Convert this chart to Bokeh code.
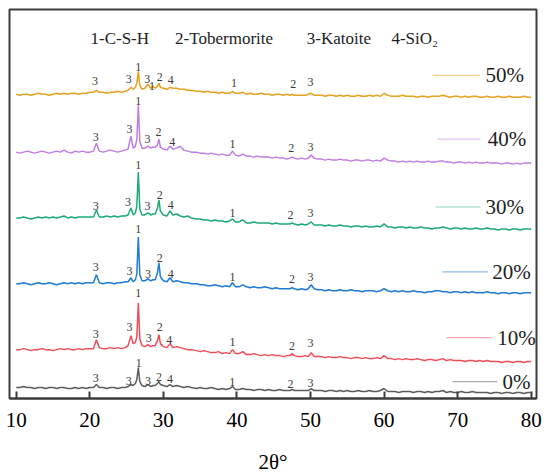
from bokeh.plotting import figure
from bokeh.models import Range1d, FixedTicker
from bokeh.core.properties import value
from bokeh.embed import file_html
from bokeh.resources import INLINE

# 2-theta grid (degrees)
two_theta = [10.0, 10.5, 11.0, 11.5, 12.0, 12.5, 13.0, 13.5, 14.0, 14.5, 15.0, 15.5, 16.0, 16.5, 17.0, 17.5, 18.0, 18.5, 19.0, 19.5, 20.0,
             20.5, 20.9, 21.3, 21.8, 22.3, 22.8, 23.3, 23.8, 24.3, 24.8,
             25.2, 25.6, 25.9, 26.2, 26.4, 26.6, 26.8, 27.1, 27.5, 27.9,
             28.3, 28.6, 28.9, 29.2, 29.4, 29.6, 30.0, 30.5, 30.9, 31.3,
             31.8, 32.3, 32.8, 33.3, 33.8,
             34.5, 35.0, 35.5, 36.0, 36.5, 37.0, 37.5, 38.0, 38.5, 39.0,
             39.4, 39.8, 40.3, 40.8, 41.3, 41.8, 42.3, 42.8, 43.3, 43.8,
             44.3, 44.8, 45.3, 45.8, 46.3, 46.8, 47.2, 47.5, 47.8, 48.3,
             48.8, 49.3, 49.7, 50.1, 50.5, 51.0, 51.5, 52.0, 52.5, 53.0,
             53.5, 54.0, 54.5, 55.0, 55.5, 56.0, 56.5, 57.0, 57.5, 58.0,
             58.5, 59.0, 59.5, 60.0, 60.5, 61.0, 61.5, 62.0, 62.5, 63.0,
             63.5, 64.0, 64.5, 65.0, 65.5, 66.0, 66.5, 67.0, 67.5, 68.0,
             68.5, 69.0, 69.5, 70.0, 70.5, 71.0, 71.5, 72.0, 72.5, 73.0,
             73.5, 74.0, 74.5, 75.0, 75.5, 76.0, 76.5, 77.0, 77.5, 78.0,
             78.5, 79.0, 79.5, 80.0]

# stacked intensities (a.u., offset included)
i_0 = [11, 11, 12, 11, 11, 10, 11, 11, 10, 11, 11, 10, 11, 11, 10, 10, 11, 10, 11, 10, 11,
       11, 14, 11, 11, 10, 11, 11, 10, 11, 11,
       12, 14, 13, 15, 19, 31, 17, 13, 12, 14,
       12, 13, 13, 15, 17, 14, 13, 12, 14, 12,
       13, 12, 11, 12, 11,
       10, 11, 10, 10, 11, 10, 9, 10, 9, 10,
       12, 9, 9, 10, 9, 9, 8, 9, 9, 8,
       9, 8, 8, 9, 8, 8, 8, 9, 8, 8,
       8, 8, 8, 10, 8, 8, 8, 7, 8, 8,
       7, 8, 7, 8, 7, 7, 8, 7, 7, 8,
       7, 7, 8, 10, 7, 7, 7, 6, 7, 7,
       7, 6, 7, 7, 6, 7, 6, 7, 7, 8,
       6, 7, 6, 6, 7, 6, 6, 7, 6, 6,
       6, 6, 5, 6, 6, 5, 6, 6, 5, 6,
       6, 5, 6, 6]
i_10 = [49, 49, 50, 49, 48, 49, 49, 50, 49, 49, 48, 49, 50, 49, 50, 49, 49, 50, 49, 50, 50,
        50, 59, 51, 50, 50, 51, 50, 51, 50, 51,
        53, 63, 55, 56, 62, 96, 60, 53, 52, 54,
        52, 53, 53, 58, 64, 55, 52, 51, 55, 51,
        52, 51, 50, 49, 49,
        48, 47, 48, 47, 46, 46, 47, 45, 46, 45,
        49, 45, 45, 47, 44, 44, 45, 44, 43, 44,
        43, 44, 43, 43, 42, 43, 43, 45, 43, 42,
        42, 43, 42, 46, 42, 42, 42, 41, 42, 41,
        41, 42, 41, 41, 40, 41, 41, 40, 41, 40,
        40, 41, 40, 43, 40, 40, 39, 40, 39, 40,
        39, 39, 40, 39, 38, 39, 39, 38, 39, 40,
        38, 39, 38, 38, 38, 37, 38, 38, 37, 38,
        37, 38, 37, 37, 37, 36, 37, 37, 36, 37,
        37, 36, 37, 37]
i_20 = [115, 115, 116, 115, 114, 115, 116, 115, 115, 116, 115, 114, 115, 116, 115, 116, 115, 116, 115, 116, 116,
        116, 124, 116, 115, 116, 116, 115, 116, 116, 117,
        117, 121, 117, 119, 125, 162, 124, 118, 118, 120,
        118, 119, 119, 126, 136, 122, 118, 117, 121, 117,
        118, 117, 116, 116, 115,
        115, 114, 114, 113, 113, 114, 113, 112, 113, 112,
        116, 112, 112, 114, 112, 111, 112, 111, 111, 112,
        111, 110, 111, 110, 110, 110, 110, 111, 110, 109,
        110, 109, 110, 114, 110, 109, 109, 108, 109, 108,
        108, 109, 108, 108, 109, 108, 108, 107, 108, 108,
        108, 107, 108, 110, 108, 107, 108, 107, 108, 107,
        107, 108, 107, 107, 106, 107, 107, 108, 108, 107,
        107, 106, 107, 107, 106, 107, 106, 107, 106, 106,
        106, 107, 106, 106, 105, 106, 106, 105, 106, 106,
        105, 106, 106, 106]
i_30 = [181, 181, 182, 181, 180, 181, 182, 181, 182, 181, 182, 181, 182, 183, 181, 182, 181, 182, 182, 182, 182,
        182, 189, 182, 182, 183, 182, 183, 182, 183, 183,
        184, 191, 184, 186, 193, 227, 190, 184, 184, 186,
        184, 185, 185, 191, 199, 188, 184, 183, 188, 184,
        185, 183, 182, 183, 181,
        180, 180, 179, 179, 178, 179, 178, 178, 177, 178,
        180, 177, 177, 179, 176, 176, 177, 176, 176, 176,
        176, 175, 176, 175, 175, 175, 175, 176, 175, 174,
        175, 174, 175, 177, 174, 174, 174, 173, 174, 173,
        173, 174, 173, 173, 172, 173, 173, 172, 173, 172,
        172, 173, 172, 175, 172, 172, 171, 172, 172, 171,
        172, 171, 171, 172, 171, 171, 170, 171, 171, 172,
        171, 170, 171, 171, 170, 171, 170, 170, 171, 170,
        170, 171, 170, 170, 169, 170, 170, 169, 170, 170,
        169, 170, 170, 170]
i_40 = [247, 246, 247, 248, 247, 246, 247, 248, 247, 246, 247, 248, 247, 249, 247, 246, 248, 247, 248, 247, 247,
        248, 256, 248, 247, 248, 249, 248, 247, 248, 249,
        250, 263, 251, 253, 260, 294, 258, 251, 251, 253,
        251, 252, 252, 254, 260, 252, 250, 249, 253, 250,
        251, 253, 249, 248, 247,
        247, 246, 246, 245, 246, 245, 244, 245, 244, 244,
        248, 244, 243, 245, 243, 243, 242, 243, 242, 242,
        242, 241, 242, 241, 241, 240, 241, 242, 241, 240,
        241, 240, 241, 244, 241, 240, 240, 239, 240, 239,
        239, 240, 239, 239, 238, 239, 239, 238, 239, 239,
        238, 239, 238, 241, 239, 238, 238, 237, 238, 237,
        238, 237, 238, 237, 237, 238, 237, 237, 238, 238,
        237, 237, 236, 237, 237, 236, 237, 236, 237, 236,
        236, 237, 236, 236, 236, 235, 236, 236, 235, 236,
        235, 236, 236, 236]
i_50 = [305, 304, 305, 305, 304, 305, 306, 305, 305, 304, 305, 306, 305, 306, 305, 306, 306, 305, 306, 306, 307,
        307, 309, 307, 307, 306, 307, 307, 308, 307, 308,
        309, 312, 310, 312, 316, 328, 314, 310, 311, 315,
        311, 313, 311, 313, 316, 312, 311, 310, 312, 311,
        311, 310, 310, 309, 309,
        308, 308, 307, 308, 307, 307, 306, 307, 306, 306,
        308, 306, 306, 307, 305, 306, 305, 305, 306, 305,
        305, 304, 305, 305, 304, 305, 304, 305, 304, 304,
        304, 304, 305, 306, 304, 304, 304, 303, 304, 304,
        303, 304, 303, 304, 303, 303, 304, 303, 303, 304,
        303, 304, 303, 306, 304, 303, 303, 303, 304, 303,
        303, 303, 302, 303, 303, 302, 303, 303, 303, 304,
        303, 302, 303, 303, 302, 303, 302, 303, 303, 302,
        302, 303, 302, 302, 303, 302, 302, 303, 302, 302,
        302, 303, 302, 302]

series_labels = ["0%", "10%", "20%", "30%", "40%", "50%"]
series_colors = ["#5c5c5c", "#f04b57", "#1f7ad8", "#1daa7a", "#c07ce4", "#e6a11e"]
series_values = [i_0, i_10, i_20, i_30, i_40, i_50]

# phase-identification labels: (2theta, height, phase number)
peak_x = [20.8, 25.3, 26.67, 27.9, 29.4, 30.9, 39.36, 47.3, 50.0,
          20.8, 25.4, 26.6, 28.0, 29.5, 30.8, 39.4, 47.5, 50.0,
          20.8, 25.4, 26.6, 27.9, 29.5, 31.0, 39.4, 47.5, 50.0,
          20.8, 25.2, 26.6, 27.85, 29.5, 31.0, 39.4, 47.3, 50.0,
          20.8, 25.4, 26.6, 27.85, 29.35, 31.2, 39.4, 47.4, 50.0,
          20.7, 25.3, 26.6, 27.8, 28.45, 29.5, 31.0, 39.6, 47.65, 50.0]
peak_y = [21, 18, 36, 18, 22, 20, 17, 15, 16,
          65, 72, 106, 61, 72, 59, 57, 53, 56,
          132, 128, 170, 125, 141, 125, 122, 120, 122,
          193, 197, 234, 193, 204, 194, 186, 184, 186,
          262, 270, 298, 260, 267, 257, 255, 251, 252,
          318, 320, 332, 320, 313, 322, 319, 316, 315, 317]
peak_txt = ["3", "3", "1", "3", "2", "4", "1", "2", "3",
            "3", "3", "1", "3", "2", "4", "1", "2", "3",
            "3", "3", "1", "3", "2", "4", "1", "2", "3",
            "3", "3", "1", "3", "2", "4", "1", "2", "3",
            "3", "3", "1", "3", "2", "4", "1", "2", "3",
            "3", "3", "1", "3", "1", "2", "4", "1", "2", "3"]

phase_key = ["1-C-S-H", "2-Tobermorite", "3-Katoite", "4-SiO\u2082"]
x_ticks = [10, 20, 30, 40, 50, 60, 70, 80]
x_title = "2θ°"

FONT = "'Liberation Serif', 'Times New Roman', serif"

p = figure(width=542, height=476, output_backend="svg", toolbar_location=None,
           x_range=Range1d(9.09, 80.72), y_range=Range1d(0, 390),
           min_border_left=9, min_border_right=6, min_border_top=9, min_border_bottom=77)
p.background_fill_color = "white"
p.border_fill_color = "white"
p.outline_line_color = "#3c3c3c"
p.outline_line_width = 2
p.grid.visible = False
p.yaxis.visible = False

ax = p.xaxis[0]
ax.ticker = FixedTicker(ticks=x_ticks)
ax.minor_tick_line_color = None
ax.major_tick_in = 7
ax.major_tick_out = 0
ax.major_tick_line_color = "#3c3c3c"
ax.major_tick_line_width = 2
ax.axis_line_color = "#3c3c3c"
ax.axis_line_width = 2
ax.major_label_text_font = FONT
ax.major_label_text_font_size = "21px"
ax.major_label_text_color = "black"
ax.major_label_standoff = 14
ax.axis_label = x_title
ax.axis_label_text_font = FONT
ax.axis_label_text_font_size = "21px"
ax.axis_label_text_font_style = "normal"
ax.axis_label_text_color = "black"
ax.axis_label_standoff = 20

for vals, col in zip(series_values, series_colors):
    p.line(two_theta, vals, line_color=col, line_width=1.5)

# peak labels
p.text(x=peak_x, y=peak_y, text=peak_txt, text_font=value(FONT), text_font_size="12px",
       text_color="#3a3a3a", text_align="center", text_baseline="middle")

# legend entries placed beside each trace
leg_x0 = [69.3, 68.5, 67.9, 67.0, 67.3, 66.6]
leg_x1 = [75.4, 74.6, 74.1, 73.1, 73.1, 73.0]
leg_y = [17, 61, 127, 192, 260, 324]
leg_tx = [76.1, 75.4, 74.7, 73.8, 74.1, 73.8]
p.segment(x0=leg_x0, y0=leg_y, x1=leg_x1, y1=leg_y, line_color=series_colors, line_width=1.2, line_alpha=0.5)
p.text(x=leg_tx, y=leg_y, text=series_labels, text_font=value(FONT), text_font_size="21px",
       text_color="#222222", text_align="left", text_baseline="middle")

# phase key at the top
key_x = [20.1, 31.6, 49.5, 61.0]
key_y = [361, 361, 361, 361]
p.text(x=key_x, y=key_y, text=phase_key, text_font=value(FONT), text_font_size="17px",
       text_color="#222222", text_align="left", text_baseline="middle")

open("out.html", "w").write(file_html(p, INLINE))
